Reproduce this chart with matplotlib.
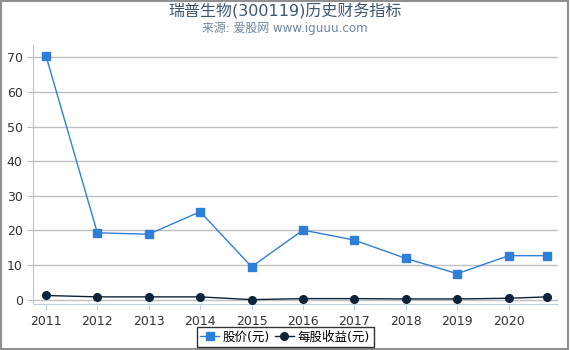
import matplotlib.pyplot as plt
from matplotlib.patches import Rectangle

plt.rcParams['font.family'] = ['DejaVu Sans', 'Noto Sans CJK SC']
plt.rcParams['axes.unicode_minus'] = False

# 数据
years = [2011, 2012, 2013, 2014, 2015, 2016, 2017, 2018, 2019, 2020, 2020.75]
price = [70.5, 19.3, 18.9, 25.4, 9.5, 20.1, 17.2, 11.9, 7.5, 12.7, 12.7]
eps = [1.2, 0.8, 0.8, 0.8, 0.0, 0.3, 0.3, 0.2, 0.2, 0.4, 0.8]
xticks = [2011, 2012, 2013, 2014, 2015, 2016, 2017, 2018, 2019, 2020]
yticks = [0, 10, 20, 30, 40, 50, 60, 70]

fig = plt.figure(figsize=(5.7, 3.5), dpi=100)
ax = fig.add_axes([0.058, 0.131, 0.921, 0.74])

ax.plot(years, price, '-s', color='#2f7ed8', linewidth=1, markersize=5.5,
        label='股价(元)', zorder=3)
ax.plot(years, eps, '-o', color='#0d233a', linewidth=1, markersize=5.5,
        label='每股收益(元)', zorder=4)

ax.set_xlim(2010.75, 2020.96)
ax.set_ylim(-1.3, 73.5)
ax.set_xticks(xticks)
ax.set_yticks(yticks)
ax.tick_params(axis='both', labelsize=9, colors='#333333', length=4)
ax.tick_params(axis='x', color='#c0d0e0')
ax.tick_params(axis='y', color='#c0c0c0')
ax.grid(axis='y', color='#c0c0c0', linewidth=1)
ax.set_axisbelow(True)
for s in ['top', 'right']:
    ax.spines[s].set_visible(False)
ax.spines['left'].set_color('#c0c0c0')
ax.spines['bottom'].set_color('#c0d0e0')

fig.text(0.5, 0.966, '瑞普生物(300119)历史财务指标', ha='center', va='center',
         fontsize=11.5, color='#3e576f')
fig.text(0.5, 0.92, '来源: 爱股网 www.iguuu.com', ha='center', va='center',
         fontsize=8.6, color='#6d869f')

leg = fig.legend(loc='center', bbox_to_anchor=(0.5, 0.037), ncol=2,
                 fontsize=9, frameon=True, fancybox=False,
                 handlelength=1.5, handletextpad=0.3, columnspacing=0.4,
                 borderpad=0.3)
leg.get_frame().set_edgecolor('black')
leg.get_frame().set_linewidth(1)

fig.add_artist(Rectangle((0.001, 0.002), 0.996, 0.996, transform=fig.transFigure,
                         fill=False, edgecolor='#909090', linewidth=1.5))

fig.savefig('out.png', dpi=100)
